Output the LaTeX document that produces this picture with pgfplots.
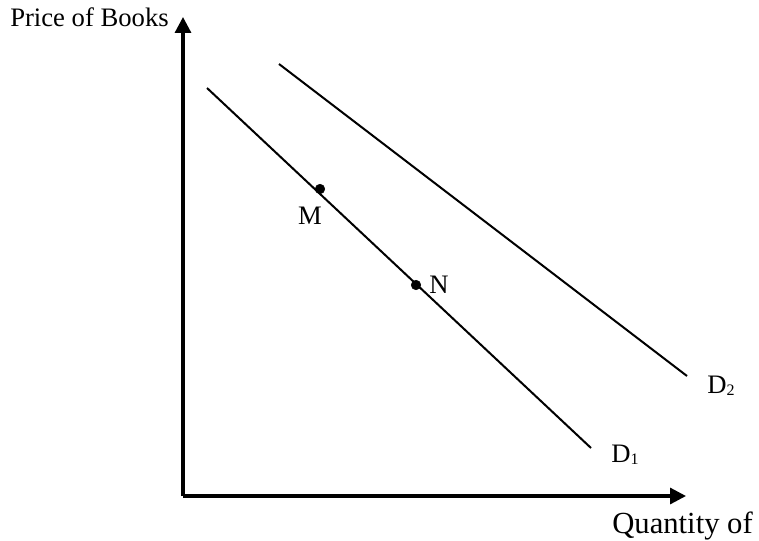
\documentclass[border=0pt]{standalone}
\usepackage{fontspec}
\setmainfont{Liberation Serif}
\usepackage{pgfplots}
\pgfplotsset{compat=1.18}
\usetikzlibrary{arrows.meta}

\newcommand\lbl{\fontsize{20}{24}\selectfont}
\newcommand\sub[1]{\raisebox{-1.5pt}{\fontsize{12}{14}\selectfont #1}}

\begin{document}
\begin{tikzpicture}
\begin{axis}[
    name=ax,
    x=0.75pt, y=0.75pt,
    xmin=0, xmax=759, ymin=0, ymax=540,
    hide axis,
    clip=false,
]
% axes
\addplot[black, line width=2.4pt, -{Triangle[length=12pt,width=12pt]}] coordinates {(183,44) (183,523)};
\addplot[black, line width=2.4pt, -{Triangle[length=12pt,width=12pt]}] coordinates {(183,44) (686,44)};
% demand curves
\addplot[black, line width=1.5pt] coordinates {(207,452) (591,92)};
\addplot[black, line width=1.5pt] coordinates {(279,476) (687,164)};
% points M and N
\addplot[only marks, mark=*, mark size=3.6pt, black] coordinates {(320,351) (416,255)};

\node[anchor=base, font=\lbl] at (axis cs:310,316) {M};
\node[anchor=base west, inner sep=0pt, font=\lbl] at (axis cs:429,247) {N};
\node[anchor=base west, inner sep=0pt, font=\lbl] at (axis cs:611,78) {D\sub{1}};
\node[anchor=base west, inner sep=0pt, font=\lbl] at (axis cs:707,147) {D\sub{2}};
\node[anchor=base west, inner sep=0pt, font=\lbl] at (axis cs:10,513) {Price of Books};
\node[anchor=base west, inner sep=0pt, font=\fontsize{23}{27}\selectfont] at (axis cs:612,7) {Quantity of};
\end{axis}
\pgfresetboundingbox
\path (ax.south west) rectangle (ax.north east);
\end{tikzpicture}
\end{document}
